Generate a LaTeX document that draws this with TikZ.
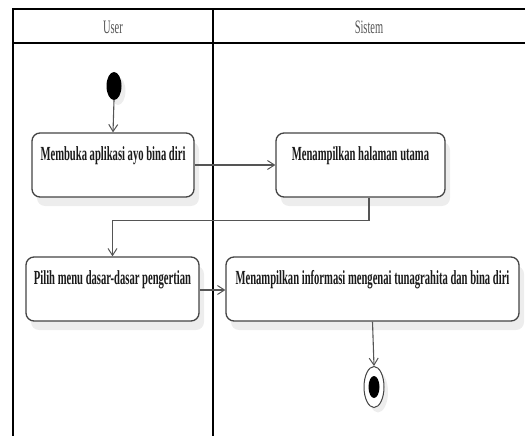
\documentclass[tikz,border=0pt]{standalone}
\usepackage{fontspec}
\setmainfont{Liberation Serif}
\newfontfamily\condbold[FakeStretch=0.53]{Liberation Serif Bold}
\newfontfamily\condreg[FakeStretch=0.55]{Liberation Serif}
\usetikzlibrary{arrows.meta,shapes.geometric,shadows}
\definecolor{conncol}{HTML}{555555}
\definecolor{boxcol}{HTML}{444444}
\definecolor{headcol}{HTML}{555555}
\definecolor{txtcol}{HTML}{1A1A1A}
\begin{document}
\begin{tikzpicture}[x=1pt,y=-1pt,
  lane/.style={line width=2pt,black},
  headtxt/.style={font=\condreg\fontsize{19}{19}\selectfont,text=headcol},
  actbox/.style={draw=boxcol,line width=1.3pt,rounded corners=8pt,fill=white,
    inner sep=0pt,minimum height=64pt,text height=27pt,text depth=37pt,
    font=\condbold\fontsize{20}{20}\selectfont,text=txtcol,
    general shadow={fill=black!7,shadow xshift=5pt,shadow yshift=-9pt}},
  conn/.style={draw=conncol,line width=1.1pt,-{Straight Barb[length=7pt,width=9pt,line width=1pt]}}]
\useasboundingbox (0,0) rectangle (525,436);
% swimlane frame
\draw[lane] (13,436) -- (13,9.5) -- (525,9.5);
\draw[lane] (13,43) -- (525,43);
\draw[lane] (213,9.5) -- (213,436);
\node[headtxt] (huser) at (113,27) {User};
\node[headtxt] (hsys) at (369,27) {Sistem};
% start
\node[ellipse,fill=black,minimum width=15pt,minimum height=28pt,inner sep=0pt,
  general shadow={fill=black!7,shadow xshift=4pt,shadow yshift=-5pt}] (start) at (114,86) {};
% activities
\node[actbox,minimum width=162pt] (b1) at (113,165) {Membuka aplikasi ayo bina diri};
\node[actbox,minimum width=169pt] (b2) at (360.5,165) {Menampilkan halaman utama};
\node[actbox,minimum width=173pt] (b3) at (112.5,289) {Pilih menu dasar-dasar pengertian};
\node[actbox,minimum width=293pt] (b4) at (372.5,289) {Menampilkan informasi mengenai tunagrahita dan bina diri};
% end
\node[ellipse,draw=boxcol,line width=1pt,fill=white,minimum width=20pt,minimum height=41pt,inner sep=0pt,
  general shadow={fill=black!7,shadow xshift=4pt,shadow yshift=-5pt}] (end) at (374,387) {};
\node[ellipse,fill=black,minimum width=11pt,minimum height=22pt,inner sep=0pt] (endin) at (end.center) {};
% connectors
\draw[conn] (start.south) -- (b1.north);
\draw[conn] (b1.east) -- (b2.west);
\draw[conn] ([xshift=8.5pt]b2.south) -- ++(0,23) -| (b3.north);
\draw[conn] ([yshift=-1pt]b3.east) -- ([yshift=-1pt]b4.west);
\draw[conn] (b4.south) -- (end.north);
\end{tikzpicture}
\end{document}
